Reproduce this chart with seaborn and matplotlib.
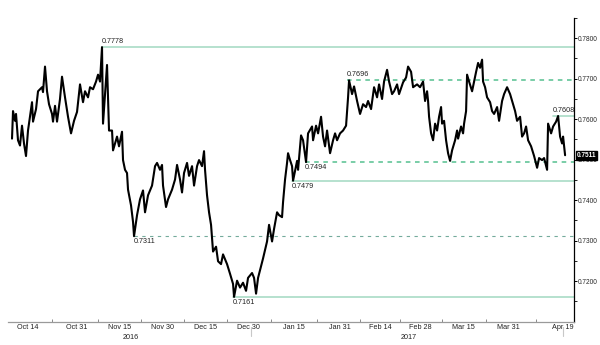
import numpy as np
import pandas as pd
import matplotlib
matplotlib.use("Agg")
import matplotlib.pyplot as plt
import matplotlib.transforms as mtransforms
import seaborn as sns

# ---- data (days since 2016-10-14, price) ----
days = [-5.59, -5.24, -4.54, -4.19, -3.50, -2.80, -2.10, -1.40, -0.70, 0.00,
        1.40, 1.75, 2.80, 3.50, 4.89, 5.24, 5.94, 6.64, 7.34, 8.39,
        8.74, 9.44, 10.14, 11.18, 11.88, 12.93, 13.98, 15.03, 16.08, 17.13,
        18.17, 19.22, 19.92, 20.97, 21.67, 22.72, 23.77, 24.47, 25.16, 25.86,
        26.21, 26.91, 27.61, 28.31, 29.36, 29.71, 31.11, 31.80, 32.85, 33.20,
        33.90, 34.60, 34.95, 36.00, 36.70, 37.05, 38.10, 39.14, 40.19, 40.89,
        41.94, 43.34, 44.39, 45.09, 46.13, 46.83, 47.18, 48.23, 48.93, 50.33,
        51.38, 52.08, 53.12, 53.82, 54.52, 55.57, 56.27, 57.32, 58.02, 59.07,
        59.76, 60.81, 61.51, 61.86, 62.56, 63.26, 63.96, 64.31, 64.66, 65.71,
        66.41, 67.45, 68.15, 69.55, 70.60, 71.65, 72.00, 73.05, 74.09, 75.14,
        76.19, 76.89, 78.29, 78.99, 79.69, 80.39, 81.43, 82.13, 83.53, 84.23,
        85.28, 85.98, 87.03, 87.72, 88.77, 89.12, 89.82, 90.52, 90.87, 91.57,
        92.27, 92.62, 94.02, 94.37, 95.41, 96.11, 97.16, 97.86, 99.26, 99.61,
        100.66, 101.36, 102.40, 103.10, 103.80, 104.50, 105.55, 106.60, 107.30, 108.00,
        109.04, 110.09, 111.14, 111.84, 112.19, 113.24, 113.94, 114.99, 116.03, 117.08,
        118.13, 118.83, 119.88, 120.93, 121.98, 122.67, 123.72, 124.42, 125.47, 126.17,
        127.22, 127.92, 128.97, 129.66, 131.06, 132.11, 132.81, 133.86, 134.56, 135.96,
        137.00, 138.05, 138.75, 139.45, 139.80, 140.15, 140.85, 141.55, 142.25, 142.95,
        143.64, 144.34, 144.69, 145.39, 146.09, 146.79, 147.49, 148.19, 149.24, 149.94,
        150.29, 151.33, 152.03, 152.38, 153.08, 153.43, 154.13, 155.18, 155.88, 156.58,
        157.28, 157.97, 158.67, 159.02, 159.72, 160.42, 161.47, 162.17, 162.87, 163.92,
        164.61, 165.66, 166.36, 167.41, 168.46, 169.51, 170.21, 170.90, 171.95, 172.65,
        173.35, 174.05, 174.75, 175.80, 176.85, 177.90, 178.59, 179.64, 180.34, 181.39,
        181.74, 182.79, 183.49, 184.54, 185.24, 185.93, 186.63, 186.98, 187.68]

price = [0.7552, 0.7620, 0.7596, 0.7613, 0.7548, 0.7535, 0.7584, 0.7540, 0.7509, 0.7572,
         0.7642, 0.7594, 0.7625, 0.7669, 0.7679, 0.7667, 0.7730, 0.7669, 0.7637, 0.7613,
         0.7594, 0.7633, 0.7594, 0.7650, 0.7705, 0.7654, 0.7606, 0.7565, 0.7596, 0.7618,
         0.7686, 0.7642, 0.7669, 0.7654, 0.7679, 0.7674, 0.7693, 0.7710, 0.7693, 0.7778,
         0.7589, 0.7662, 0.7734, 0.7572, 0.7572, 0.7523, 0.7557, 0.7533, 0.7569, 0.7499,
         0.7475, 0.7467, 0.7426, 0.7387, 0.7346, 0.7311, 0.7363, 0.7402, 0.7424, 0.7370,
         0.7412, 0.7436, 0.7484, 0.7492, 0.7475, 0.7487, 0.7436, 0.7383, 0.7402, 0.7426,
         0.7451, 0.7487, 0.7451, 0.7419, 0.7467, 0.7492, 0.7460, 0.7484, 0.7436, 0.7484,
         0.7499, 0.7484, 0.7521, 0.7475, 0.7412, 0.7370, 0.7339, 0.7305, 0.7273, 0.7285,
         0.7249, 0.7242, 0.7266, 0.7242, 0.7218, 0.7193, 0.7161, 0.7201, 0.7184, 0.7196,
         0.7176, 0.7208, 0.7220, 0.7208, 0.7169, 0.7208, 0.7237, 0.7256, 0.7298, 0.7339,
         0.7298, 0.7329, 0.7370, 0.7363, 0.7358, 0.7395, 0.7451, 0.7492, 0.7516, 0.7499,
         0.7484, 0.7448, 0.7497, 0.7475, 0.7560, 0.7548, 0.7494, 0.7565, 0.7582, 0.7548,
         0.7584, 0.7565, 0.7606, 0.7557, 0.7533, 0.7572, 0.7516, 0.7548, 0.7565, 0.7548,
         0.7565, 0.7572, 0.7584, 0.7654, 0.7696, 0.7662, 0.7681, 0.7645, 0.7613, 0.7637,
         0.7630, 0.7645, 0.7625, 0.7679, 0.7654, 0.7686, 0.7650, 0.7693, 0.7722, 0.7693,
         0.7662, 0.7669, 0.7686, 0.7662, 0.7691, 0.7703, 0.7730, 0.7717, 0.7679, 0.7686,
         0.7679, 0.7693, 0.7645, 0.7669, 0.7645, 0.7606, 0.7565, 0.7548, 0.7589, 0.7572,
         0.7606, 0.7630, 0.7589, 0.7596, 0.7548, 0.7516, 0.7497, 0.7523, 0.7548, 0.7572,
         0.7552, 0.7582, 0.7565, 0.7589, 0.7620, 0.7710, 0.7693, 0.7669, 0.7693, 0.7717,
         0.7739, 0.7727, 0.7747, 0.7693, 0.7679, 0.7654, 0.7642, 0.7620, 0.7613, 0.7630,
         0.7596, 0.7645, 0.7662, 0.7679, 0.7662, 0.7637, 0.7620, 0.7596, 0.7606, 0.7557,
         0.7565, 0.7582, 0.7548, 0.7533, 0.7509, 0.7480, 0.7504, 0.7499, 0.7504, 0.7475,
         0.7589, 0.7565, 0.7582, 0.7594, 0.7608, 0.7557, 0.7540, 0.7557, 0.7511]

# support / resistance levels: plotted level, label, start day, style
level_values = [0.7778, 0.7696, 0.7608, 0.7494, 0.7448, 0.7311, 0.7161]
level_labels = ["0.7778", "0.7696", "0.7608", "0.7494", "0.7479", "0.7311", "0.7161"]
level_start = [25.9, 111.5, 183.5, 96.8, 92.3, 37.0, 71.6]
level_style = ["solid", "dash", "solid", "dash", "solid", "dot", "solid"]
level_text_pos = ["above", "above", "above", "below", "below", "below", "below"]

last_price = "0.7511"
last_value = 0.7511

tick_dates = ["2016-10-14", "2016-10-31", "2016-11-15", "2016-11-30", "2016-12-15",
              "2016-12-30", "2017-01-15", "2017-01-31", "2017-02-14", "2017-02-28",
              "2017-03-15", "2017-03-31", "2017-04-19"]
tick_labels = ["Oct 14", "Oct 31", "Nov 15", "Nov 30", "Dec 15", "Dec 30", "Jan 15",
               "Jan 31", "Feb 14", "Feb 28", "Mar 15", "Mar 31", "Apr 19"]
year_labels = ["2016", "2017"]
year_dates = ["2016-11-19", "2017-02-24"]

# ---- build ----
base = pd.Timestamp("2016-10-14")
df = pd.DataFrame({"date": base + pd.to_timedelta(days, unit="D"), "price": price})

sns.set_theme(style="white")
plt.rcParams["font.family"] = ["Liberation Sans", "DejaVu Sans"]

fig = plt.figure(figsize=(6.0, 3.45), dpi=100)
ax = fig.add_axes([0.0133, 0.0667, 0.9434, 0.8811])

sns.lineplot(data=df, x="date", y="price", ax=ax, color="black", lw=1.5, zorder=5)

x0 = base + pd.Timedelta(days=-7.0)
x1 = base + pd.Timedelta(days=190.8)
ax.set_xlim(x0, x1)
ax.set_ylim(0.7099, 0.7836)

styles = {
    "solid": dict(color="#a9dcc6", lw=1.2, ls="-"),
    "dash": dict(color="#55c08f", lw=1.1, ls=(0, (3, 3))),
    "dot": dict(color="#74ab9c", lw=0.8, ls=(0, (3, 4))),
}
for v, lab, st, sty, pos in zip(level_values, level_labels, level_start, level_style, level_text_pos):
    d0 = base + pd.Timedelta(days=st)
    ax.plot([d0, x1], [v, v], zorder=2, **styles[sty])
    if pos == "above":
        ax.annotate(lab, xy=(d0, v), xytext=(0, 1.5), textcoords="offset points",
                    fontsize=5.2, ha="left", va="bottom", color="#222222", zorder=6)
    else:
        ax.annotate(lab, xy=(d0, v), xytext=(0, -1.5), textcoords="offset points",
                    fontsize=5.2, ha="left", va="top", color="#222222", zorder=6)

# axes styling
for s in ["left", "top"]:
    ax.spines[s].set_visible(False)
ax.spines["right"].set_color("black")
ax.spines["right"].set_linewidth(0.9)
ax.spines["bottom"].set_color("#9a9a9a")
ax.spines["bottom"].set_linewidth(0.9)

yt = np.arange(0.72, 0.7801, 0.01)
ax.yaxis.tick_right()
ax.set_yticks(yt)
ax.set_yticklabels([f"{t:.4f}" for t in yt])
ax.set_yticks(np.arange(0.7150, 0.7851, 0.01), minor=True)
ax.tick_params(axis="y", which="major", length=2.5, width=0.7, color="black",
               labelsize=4.7, pad=0.3, right=True, left=False)
ax.tick_params(axis="y", which="minor", length=1.8, width=0.6, color="black",
               right=True, left=False)

tdates = pd.to_datetime(tick_dates)
ax.set_xticks(tdates)
ax.set_xticklabels(tick_labels)
mids = [tdates[i] + (tdates[i + 1] - tdates[i]) / 2 for i in range(len(tdates) - 1)]
ax.set_xticks(mids, minor=True)
ax.tick_params(axis="x", which="major", length=0, labelsize=5.2, pad=1.2, colors="#222222")
ax.tick_params(axis="x", which="minor", length=2, width=0.6, direction="in",
               color="#777777", bottom=True)

ax.set_xlabel("")
ax.set_ylabel("")
ax.grid(False)

trans = mtransforms.blended_transform_factory(ax.transData, ax.transAxes)
for lab, d in zip(year_labels, year_dates):
    ax.text(pd.Timestamp(d), -0.038, lab, transform=trans, fontsize=5.2,
            ha="center", va="top", color="#222222")
for d in ["2016-12-31", "2017-04-19"]:
    ax.plot([pd.Timestamp(d)] * 2, [-0.018, -0.045], transform=trans, clip_on=False,
            color="#c8c8c8", lw=0.8)

ax.annotate(last_price, xy=(1.0, last_value), xycoords=("axes fraction", "data"),
            xytext=(2, 0), textcoords="offset points", fontsize=4.7, color="white",
            ha="left", va="center", fontweight="bold", annotation_clip=False,
            bbox=dict(boxstyle="square,pad=0.12", fc="black", ec="black"), zorder=10)

fig.savefig("out.png", dpi=100, facecolor="white")
